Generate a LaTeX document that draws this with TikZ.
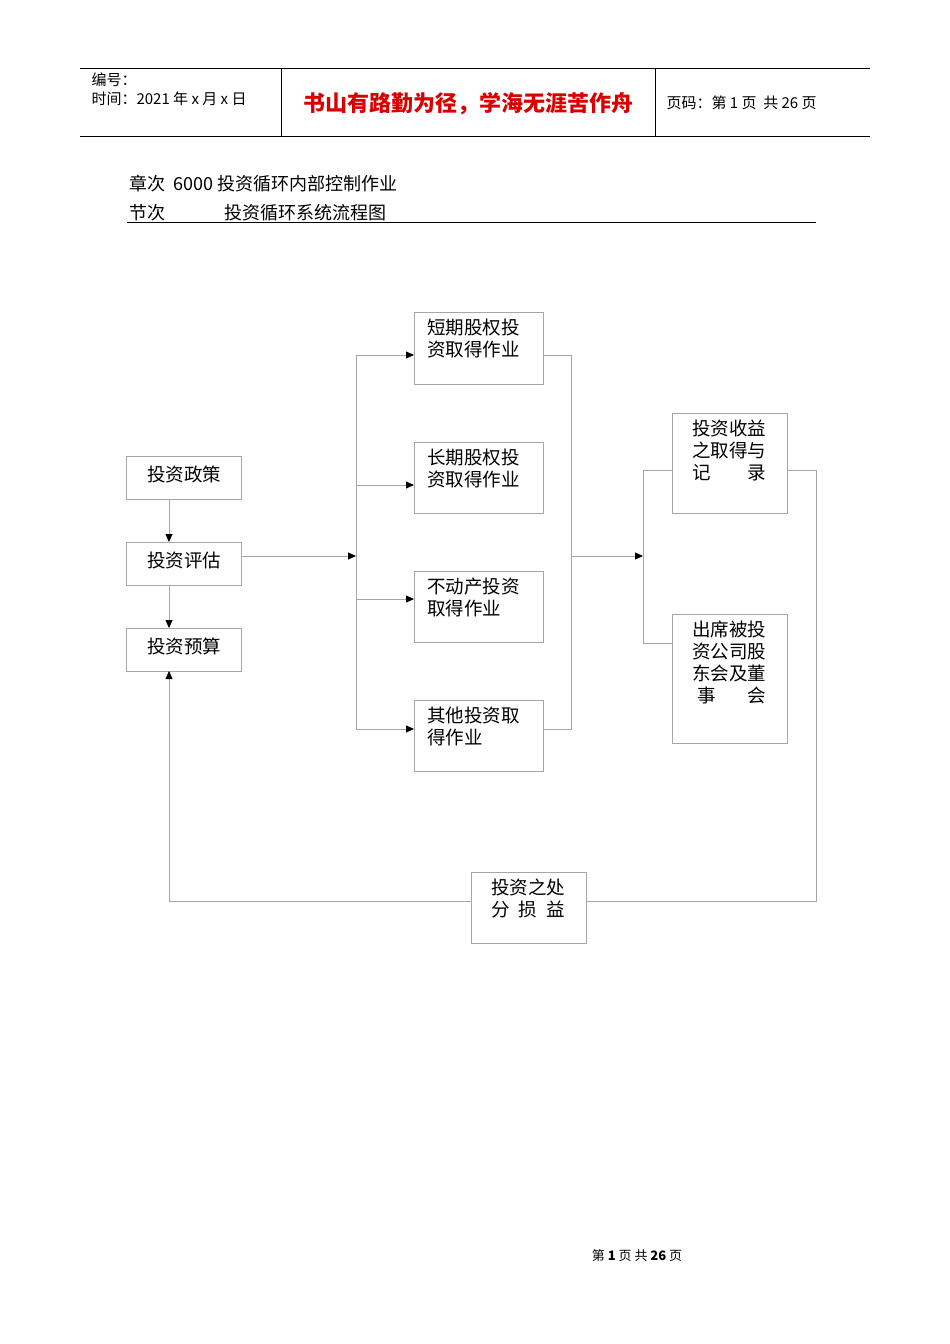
\documentclass[tikz,border=0pt]{standalone}
\usepackage{fontspec}
\setmainfont{Noto Sans CJK SC}
\usetikzlibrary{arrows.meta}
\begin{document}
\begin{tikzpicture}[x=1pt,y=-1pt,
  bx/.style={draw=gray!70,line width=0.8pt,inner sep=0pt},
  bt/.style={font=\fontsize{18.5}{22}\selectfont},
  tx/.style={font=\fontsize{18.5}{22}\selectfont,align=left,anchor=north west,inner sep=0pt},
  ln/.style={draw=gray!70,line width=0.8pt},
  ar/.style={ln,-{Triangle[length=8pt,width=7pt,fill=black,color=black]}}]
\useasboundingbox (0,0) rectangle (950,1344);
% header
\draw[line width=0.8pt] (80,68)--(870,68) (80,136)--(870,136) (281,68)--(281,136) (655,68)--(655,136);
\node[anchor=west,font=\fontsize{15}{18}\selectfont] (h1) at (88,80) {编号：};
\node[anchor=west,font=\fontsize{15}{18}\selectfont] (h2) at (88,99) {时间：2021 年 x 月 x 日};
\node[font=\bfseries\fontsize{22}{26}\selectfont,text=red!85!black] (h3) at (468,104) {书山有路勤为径，学海无涯苦作舟};
\node[anchor=west,font=\fontsize{15}{18}\selectfont] (h4) at (663,103) {页码：第 1 页 \ 共 26 页};
\node[anchor=west,font=\fontsize{18}{20}\selectfont] (c1) at (126,184) {章次 \ 6000 投资循环内部控制作业};
\node[anchor=west,font=\fontsize{18}{20}\selectfont] (c2) at (126,213) {节次\hspace{3.3em}投资循环系统流程图};
\draw[line width=0.8pt] (127,222)--(816,222);
% boxes
\draw[bx] (126,456) rectangle (241,499); \node[bt] (zc) at (184,474) {投资政策};
\draw[bx] (126,542) rectangle (241,585); \node[bt] (pg) at (184,560) {投资评估};
\draw[bx] (126,628) rectangle (241,671); \node[bt] (ys) at (184,646) {投资预算};
\draw[bx] (414,312) rectangle (543,384); \node[tx] (b1) at (427,319) {短期股权投\\资取得作业};
\draw[bx] (414,442) rectangle (543,513); \node[tx] (b2) at (427,449) {长期股权投\\资取得作业};
\draw[bx] (414,571) rectangle (543,642); \node[tx] (b3) at (427,578) {不动产投资\\取得作业};
\draw[bx] (414,700) rectangle (543,771); \node[tx] (b4) at (427,707) {其他投资取\\得作业};
\draw[bx] (672,413) rectangle (787,513); \node[tx] (r1) at (692,420) {投资收益\\之取得与\\记\hspace{2em}录};
\draw[bx] (672,614) rectangle (787,743); \node[tx] (r2) at (692,621) {出席被投\\资公司股\\东会及董\\\hspace{0.3em}事\hspace{1.7em}会};
\draw[bx] (471,872) rectangle (586,943); \node[tx] (cf) at (491,879) {投资之处\\分\hspace{0.5em}损\hspace{0.5em}益};
% connectors
\coordinate (a1) at (169,499); \coordinate (a2) at (169,542);
\coordinate (a3) at (169,585); \coordinate (a4) at (169,628);
\draw[ar] (a1)--(a2);
\draw[ar] (a3)--(a4);
\coordinate (e1) at (241,556); \coordinate (e2) at (356,556);
\draw[ar] (e1)--(e2);
\draw[ln] (356,355)--(356,729);
\foreach \y in {355,485,599,729} \draw[ar] (356,\y)--(414,\y);
\draw[ln] (543,355)--(571,355)--(571,729)--(543,729);
\draw[ar] (571,556)--(643,556);
\draw[ln] (672,470)--(643,470)--(643,643)--(672,643);
\draw[ln] (787,470)--(816,470)--(816,901)--(586,901);
\draw[ar] (471,901)--(169,901)--(169,671);
\node[font=\fontsize{13}{15}\selectfont] (ft) at (637,1256) {第 \textbf{1} 页 共 \textbf{26} 页};
\end{tikzpicture}
\end{document}
